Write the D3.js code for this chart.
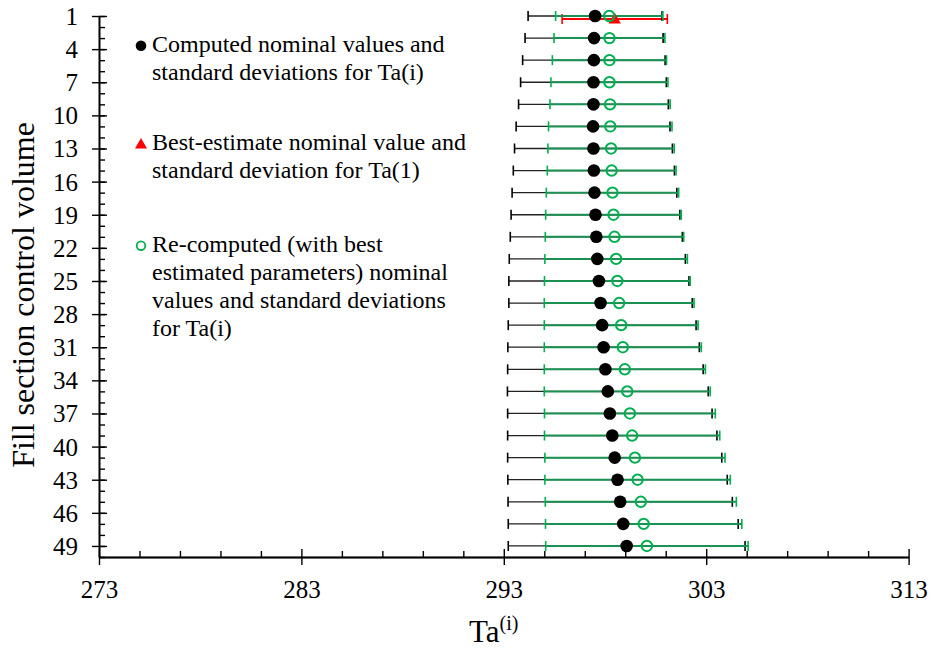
<!DOCTYPE html>
<html>
<head>
<meta charset="utf-8">
<script src="https://cdn.jsdelivr.net/npm/d3@7/dist/d3.min.js"></script>
<style>
  html, body { margin: 0; padding: 0; background: #fff; }
  svg { display: block; font-family: "Liberation Serif", "Times New Roman", serif; }
</style>
</head>
<body>
<svg id="chart" width="935" height="651"></svg>
<script>
// Control volumes (odd indices) shown on the vertical axis
const volumes = [1, 3, 5, 7, 9, 11, 13, 15, 17, 19, 21, 23, 25, 27, 29, 31, 33, 35, 37, 39, 41, 43, 45, 47, 49];

// Computed nominal values and error-bar half widths for Ta(i)
const computedMean = [297.51, 297.46, 297.45, 297.43, 297.43, 297.41, 297.43, 297.45, 297.48, 297.53,
                      297.57, 297.62, 297.70, 297.78, 297.86, 297.93, 298.02, 298.14, 298.24, 298.36,
                      298.48, 298.62, 298.75, 298.90, 299.07];
const computedSd = [3.31, 3.41, 3.52, 3.60, 3.70, 3.80, 3.90, 3.98, 4.07, 4.17,
                    4.25, 4.35, 4.45, 4.53, 4.64, 4.73, 4.83, 4.96, 5.05, 5.17,
                    5.29, 5.42, 5.54, 5.68, 5.85];

// Re-computed values (with best estimated parameters)
const recomputedMean = [298.21, 298.22, 298.22, 298.22, 298.25, 298.26, 298.30, 298.33, 298.37, 298.42,
                        298.47, 298.55, 298.61, 298.70, 298.80, 298.88, 298.98, 299.10, 299.23, 299.34,
                        299.48, 299.61, 299.77, 299.91, 300.07];
const recomputedSd = [2.65, 2.74, 2.82, 2.89, 2.97, 3.05, 3.12, 3.18, 3.27, 3.35,
                      3.42, 3.52, 3.60, 3.70, 3.80, 3.88, 3.98, 4.10, 4.22, 4.33,
                      4.45, 4.58, 4.72, 4.85, 5.00];

// Best-estimate nominal value and standard deviation for Ta(1)
const bestVolume = [1];
const bestMean = [298.48];
const bestSd = [2.6];

// Axis ticks
const xMajorTicks = [273, 283, 293, 303, 313];
const xMinorTicks = [275, 277, 279, 281, 285, 287, 289, 291, 295, 297, 299, 301, 305, 307, 309, 311];
const yMajorTicks = [1, 4, 7, 10, 13, 16, 19, 22, 25, 28, 31, 34, 37, 40, 43, 46, 49];
const yMinorTicks = d3.range(1, 51);

const legendItems = [
  { symbol: "dot", lines: ["Computed nominal values and", "standard deviations for Ta(i)"] },
  { symbol: "triangle", lines: ["Best-estimate nominal value and", "standard deviation for Ta(1)"] },
  { symbol: "circle", lines: ["Re-computed (with best", "estimated parameters) nominal", "values and standard deviations", "for Ta(i)"] }
];

const BLACK = "#000";
const GREEN = "#00b050";
const GREEN_LINE = "#1a9152";
const RED = "#ff0000";

const svg = d3.select("#chart");
const x = d3.scaleLinear().domain([273, 313]).range([99, 908.6]);
const y = d3.scaleLinear().domain([1, 50]).range([16, 557]);

// ---- axes ----
const axisG = svg.append("g").attr("class", "axes");

const gx = axisG.append("g").attr("transform", `translate(0,${y(50)})`);
gx.append("g").call(d3.axisBottom(x).tickValues(xMinorTicks).tickSize(-6).tickSizeOuter(0).tickFormat(""));
gx.append("g").call(d3.axisBottom(x).tickValues(xMajorTicks).tickSize(-8).tickSizeOuter(0).tickFormat(""));
const gxMain = gx.append("g").call(d3.axisBottom(x).tickValues(xMajorTicks).tickSize(8).tickSizeOuter(0).tickFormat(d3.format("d")));
gxMain.selectAll("text").attr("y", 41).attr("dy", 0)
  .style("font-size", "25px").style("font-family", "Liberation Serif").attr("fill", BLACK);

const gy = axisG.append("g").attr("transform", `translate(${x(273)},0)`);
gy.append("g").call(d3.axisLeft(y).tickValues(yMinorTicks).tickSize(-6).tickSizeOuter(0).tickFormat(""));
gy.append("g").call(d3.axisLeft(y).tickValues(yMajorTicks).tickSize(-8).tickSizeOuter(0).tickFormat(""));
const gyMain = gy.append("g").call(d3.axisLeft(y).tickValues(yMajorTicks).tickSize(7).tickSizeOuter(0).tickFormat(d3.format("d")));
gyMain.selectAll("text").attr("x", -21).attr("dy", "0.34em")
  .style("font-size", "25px").style("font-family", "Liberation Serif").attr("fill", BLACK);

axisG.selectAll("path.domain, .tick line").attr("stroke", BLACK).attr("stroke-width", 1.4);

// ---- error bars ----
const capH = 5;
function errorBars(parent, ys, means, sds, lineColor, capColor, lineWidth, dy) {
  const g = parent.append("g");
  const rows = ys.map((v, k) => ({ v, m: means[k], s: sds[k] }));
  g.selectAll("line.bar").data(rows).join("line")
    .attr("x1", d => x(d.m - d.s)).attr("x2", d => x(d.m + d.s))
    .attr("y1", d => y(d.v) + dy).attr("y2", d => y(d.v) + dy)
    .attr("stroke", lineColor).attr("stroke-width", lineWidth);
  ["lo", "hi"].forEach(side => {
    g.selectAll("line.cap-" + side).data(rows).join("line")
      .attr("x1", d => x(side === "lo" ? d.m - d.s : d.m + d.s))
      .attr("x2", d => x(side === "lo" ? d.m - d.s : d.m + d.s))
      .attr("y1", d => y(d.v) + dy - capH).attr("y2", d => y(d.v) + dy + capH)
      .attr("stroke", capColor).attr("stroke-width", 1.6);
  });
  return g;
}

const marks = svg.append("g");
errorBars(marks, bestVolume, bestMean, bestSd, RED, RED, 1.8, 3);
errorBars(marks, volumes, computedMean, computedSd, "#222", BLACK, 1.3, 0);
errorBars(marks, volumes, recomputedMean, recomputedSd, GREEN_LINE, GREEN, 2, 0);

// computed nominal values
marks.append("g").selectAll("circle").data(volumes).join("circle")
  .attr("cx", (v, k) => x(computedMean[k])).attr("cy", v => y(v)).attr("r", 6.3)
  .attr("fill", BLACK);

// best-estimate nominal value
const tri = d3.symbol().type(d3.symbolTriangle).size(66);
marks.append("g").selectAll("path").data(bestVolume).join("path")
  .attr("d", tri)
  .attr("transform", (v, k) => `translate(${x(bestMean[k])},${y(v) + 4})`)
  .attr("fill", RED);

// re-computed nominal values
marks.append("g").selectAll("circle").data(volumes).join("circle")
  .attr("cx", (v, k) => x(recomputedMean[k])).attr("cy", v => y(v)).attr("r", 5.2)
  .attr("fill", "none").attr("stroke", GREEN).attr("stroke-width", 2);

// ---- legend ----
const legend = svg.append("g").attr("class", "legend");
const legendTop = [51.7, 150, 251.7];
const lineStep = 28.2;
legendItems.forEach((item, k) => {
  const base = legendTop[k];
  const cy = base - 6;
  if (item.symbol === "dot") {
    legend.append("circle").attr("cx", 141).attr("cy", cy).attr("r", 5.3).attr("fill", BLACK);
  } else if (item.symbol === "triangle") {
    legend.append("path").attr("d", d3.symbol().type(d3.symbolTriangle).size(62)())
      .attr("transform", `translate(141,${cy + 1})`).attr("fill", RED);
  } else {
    legend.append("circle").attr("cx", 141).attr("cy", cy).attr("r", 4.3)
      .attr("fill", "none").attr("stroke", GREEN).attr("stroke-width", 1.8);
  }
  item.lines.forEach((t, j) => {
    legend.append("text").attr("x", 152).attr("y", base + j * lineStep)
      .style("font-size", "24px").attr("fill", BLACK).text(t);
  });
});

// ---- axis titles ----
const xt = svg.append("text").attr("x", x(292.5)).attr("y", 641.5)
  .attr("text-anchor", "middle").style("font-size", "31px").attr("fill", BLACK);
xt.append("tspan").text("Ta");
xt.append("tspan").attr("dy", -12).style("font-size", "20px").text("(i)");

svg.append("text")
  .attr("transform", `translate(34,295) rotate(-90)`)
  .attr("text-anchor", "middle").style("font-size", "32px").attr("fill", BLACK)
  .text("Fill section control volume");
</script>
</body>
</html>
